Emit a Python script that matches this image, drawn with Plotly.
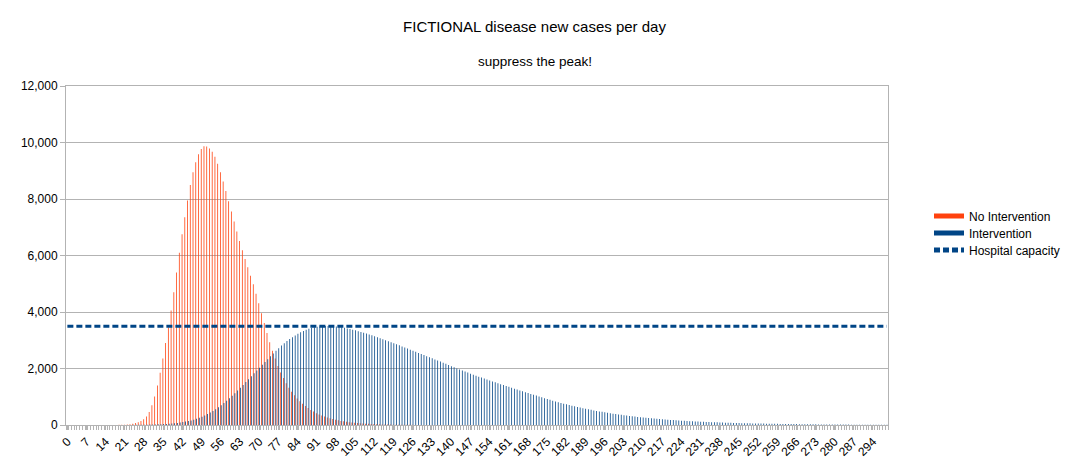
import plotly.graph_objects as go

# ---- data ----
days = list(range(300))
tick_days = list(range(0, 300, 7))
hospital_capacity_value = 3500

no_intervention = [
    0, 0, 0, 0, 0, 0, 0, 0, 0, 0,
    0, 0, 0, 0, 0, 0, 0, 0, 3, 5,
    8, 13, 20, 30, 48, 70, 100, 140, 200, 300,
    460, 700, 1010, 1400, 1850, 2350, 2900, 3450, 4050, 4700,
    5400, 6100, 6750, 7350, 7950, 8500, 8950, 9300, 9580, 9770,
    9870, 9860, 9790, 9670, 9500, 9250, 8950, 8620, 8280, 7920,
    7560, 7200, 6850, 6510, 6190, 5880, 5580, 5280, 4980, 4650,
    4310, 3960, 3610, 3260, 2930, 2630, 2350, 2090, 1860, 1660,
    1480, 1320, 1180, 1050, 940, 840, 750, 670, 600, 535,
    475, 420, 375, 335, 300, 265, 235, 210, 185, 165,
    145, 130, 115, 100, 90, 80, 70, 62, 55, 48,
    42, 37, 33, 29, 25, 22, 19, 17, 15, 13,
    11, 10, 9, 8, 7, 6, 5, 4, 4, 3,
    3, 2, 2, 2, 1, 1, 1, 1, 1, 1,
    1, 0, 0, 0, 0, 0, 0, 0, 0, 0,
    0, 0, 0, 0, 0, 0, 0, 0, 0, 0,
    0, 0, 0, 0, 0, 0, 0, 0, 0, 0,
    0, 0, 0, 0, 0, 0, 0, 0, 0, 0,
    0, 0, 0, 0, 0, 0, 0, 0, 0, 0,
    0, 0, 0, 0, 0, 0, 0, 0, 0, 0,
    0, 0, 0, 0, 0, 0, 0, 0, 0, 0,
    0, 0, 0, 0, 0, 0, 0, 0, 0, 0,
    0, 0, 0, 0, 0, 0, 0, 0, 0, 0,
    0, 0, 0, 0, 0, 0, 0, 0, 0, 0,
    0, 0, 0, 0, 0, 0, 0, 0, 0, 0,
    0, 0, 0, 0, 0, 0, 0, 0, 0, 0,
    0, 0, 0, 0, 0, 0, 0, 0, 0, 0,
    0, 0, 0, 0, 0, 0, 0, 0, 0, 0,
    0, 0, 0, 0, 0, 0, 0, 0, 0, 0,
    0, 0, 0, 0, 0, 0, 0, 0, 0, 0,
]

intervention = [
    0, 0, 0, 0, 0, 0, 0, 0, 0, 0,
    0, 0, 0, 0, 0, 0, 0, 0, 0, 0,
    2, 3, 3, 4, 5, 6, 7, 9, 10, 12,
    15, 17, 20, 24, 28, 33, 39, 46, 54, 64,
    75, 88, 103, 120, 140, 163, 190, 220, 255, 295,
    340, 390, 440, 500, 560, 630, 700, 775, 860, 945,
    1035, 1125, 1220, 1320, 1420, 1520, 1620, 1725, 1830, 1930,
    2030, 2130, 2230, 2330, 2430, 2530, 2630, 2720, 2810, 2890,
    2970, 3040, 3110, 3170, 3230, 3280, 3330, 3370, 3405, 3435,
    3460, 3478, 3490, 3498, 3502, 3503, 3500, 3494, 3485, 3473,
    3458, 3440, 3420, 3398, 3375, 3350, 3323, 3295, 3266, 3236,
    3205, 3173, 3140, 3107, 3073, 3038, 3003, 2967, 2931, 2894,
    2857, 2820, 2782, 2744, 2706, 2668, 2630, 2591, 2552, 2514,
    2475, 2437, 2398, 2360, 2322, 2284, 2246, 2206, 2165, 2123,
    2081, 2040, 2000, 1963, 1926, 1890, 1854, 1818, 1782, 1747,
    1712, 1677, 1642, 1608, 1575, 1542, 1510, 1478, 1446, 1414,
    1382, 1350, 1318, 1287, 1256, 1225, 1194, 1163, 1132, 1101,
    1070, 1040, 1010, 980, 950, 920, 890, 862, 835, 808,
    782, 756, 731, 707, 683, 660, 638, 616, 595, 575,
    555, 536, 517, 499, 482, 465, 448, 432, 417, 402,
    387, 373, 359, 346, 333, 321, 309, 297, 286, 275,
    265, 255, 245, 236, 227, 218, 210, 202, 194, 187,
    180, 173, 166, 160, 154, 148, 142, 137, 132, 127,
    122, 117, 113, 108, 104, 100, 96, 93, 89, 86,
    83, 80, 77, 74, 71, 68, 66, 63, 61, 59,
    57, 55, 53, 51, 49, 47, 45, 43, 42, 40,
    39, 37, 36, 34, 33, 32, 31, 29, 28, 27,
    26, 25, 24, 23, 22, 21, 20, 20, 19, 18,
    17, 17, 16, 15, 15, 14, 13, 13, 12, 12,
    11, 11, 10, 10, 9, 9, 9, 8, 8, 8,
]

hospital_capacity = [hospital_capacity_value for _ in days]

ORANGE = "#ff420e"
BLUE = "#004586"
ORANGE_BAR = "rgba(255,66,14,0.99)"
BLUE_BAR = "rgba(0,69,134,0.99)"
GRID = "#b3b3b3"

fig = go.Figure()
fig.add_trace(go.Bar(x=days, y=no_intervention, name="No Intervention",
                     marker=dict(color=ORANGE_BAR, line=dict(width=0)), showlegend=False))
fig.add_trace(go.Bar(x=days, y=intervention, name="Intervention",
                     marker=dict(color=BLUE_BAR, line=dict(width=0)), showlegend=False))
fig.add_trace(go.Scatter(x=[None], y=[None], mode="lines", name="No Intervention",
                         line=dict(color=ORANGE, width=7), legend="legend"))
fig.add_trace(go.Scatter(x=[None], y=[None], mode="lines", name="Intervention",
                         line=dict(color=BLUE, width=7), legend="legend2"))
fig.add_trace(go.Scatter(x=days, y=hospital_capacity, mode="lines", name="Hospital capacity",
                         line=dict(color=BLUE, width=3, dash="6px,3px"), legend="legend3"))

L, R, T, B = 66, 181, 86, 43
W, H = 1069, 468
pw = W - L - R
ph = H - T - B


def legend_at(y_px):
    return dict(x=(929 - L) / pw, xanchor="left", y=(H - B - y_px) / ph, yanchor="middle",
                font=dict(size=12, color="black"), bgcolor="rgba(0,0,0,0)",
                itemsizing="constant")


fig.update_layout(
    width=W, height=H,
    margin=dict(l=L, r=R, t=T, b=B, autoexpand=False),
    paper_bgcolor="white", plot_bgcolor="white",
    font=dict(family="Liberation Sans, Arial, sans-serif", color="black", size=12),
    barmode="group", bargap=0.42, bargroupgap=0,
    title=dict(text="FICTIONAL disease new cases per day", x=0.5, xref="container",
               xanchor="center", y=1 - 27 / H, yref="container", yanchor="middle",
               font=dict(size=15, color="black")),
    annotations=[dict(text="suppress the peak!", xref="paper", yref="paper",
                      x=(535 - L) / pw, y=(H - B - 62) / ph, xanchor="center",
                      yanchor="middle", showarrow=False, font=dict(size=13.5, color="black"))],
    legend=legend_at(216),
    legend2=legend_at(233),
    legend3=legend_at(250),
    showlegend=True,
)
fig.update_xaxes(
    range=[-0.5, 299.5], tickmode="array", tickvals=tick_days,
    ticktext=[str(d) for d in tick_days], tickangle=-45,
    tickfont=dict(size=12, color="black"),
    ticks="outside", ticklen=4, tickcolor=GRID,
    minor=dict(tick0=-0.5, dtick=1, ticks="outside", ticklen=4, tickcolor=GRID, showgrid=False),
    showgrid=False, showline=True, linecolor=GRID, linewidth=1, mirror=True, zeroline=False,
)
fig.update_yaxes(
    range=[0, 12000], dtick=2000, tickformat=",", tickfont=dict(size=12, color="black"),
    ticks="outside", ticklen=5, tickcolor=GRID,
    showgrid=True, gridcolor=GRID, gridwidth=1,
    showline=True, linecolor=GRID, linewidth=1, mirror=True, zeroline=False,
)

fig.write_html("out.html", config={"displayModeBar": False},
               post_script="document.body.style.margin='0px';")
